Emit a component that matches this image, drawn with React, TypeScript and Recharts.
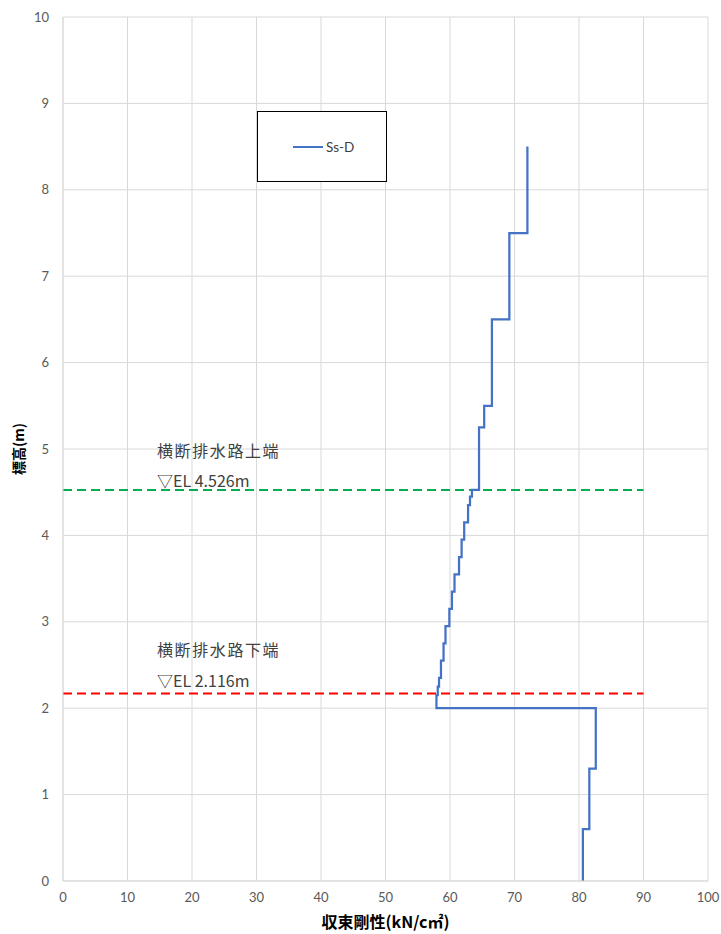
import {
  CartesianGrid,
  Legend,
  Line,
  LineChart,
  ReferenceLine,
  XAxis,
  YAxis,
} from "recharts";

// elevation (m) at the top of each layer, bottom layer first
const layerTops = [
  0.6, 1.3, 2.0, 2.15, 2.25, 2.35, 2.55, 2.75, 2.95, 3.15, 3.35, 3.55, 3.75,
  3.95, 4.15, 4.35, 4.45, 4.526, 5.25, 5.5, 6.5, 7.5, 8.5,
];
// convergence stiffness (kN/cm²) of each layer
const stiffness = [
  80.6, 81.6, 82.6, 57.9, 58.1, 58.3, 58.6, 59.0, 59.3, 59.9, 60.3, 60.7, 61.4,
  61.8, 62.2, 62.8, 63.1, 63.4, 64.5, 65.3, 66.5, 69.2, 72.0,
];
const xTicks = [0, 10, 20, 30, 40, 50, 60, 70, 80, 90, 100];
const yTicks = [0, 1, 2, 3, 4, 5, 6, 7, 8, 9, 10];

const upperEnd = { title: "横断排水路上端", el: "▽EL 4.526m", y: 4.526, color: "#00B050" };
const lowerEnd = { title: "横断排水路下端", el: "▽EL 2.116m", y: 2.17, color: "#FF0000" };
const guideRight = 90;

// step profile: each layer is a vertical run from its bottom to its top
const profile = layerTops.flatMap((top, i) => {
  const bottom = i === 0 ? 0 : layerTops[i - 1];
  return [
    { x: stiffness[i], y: bottom },
    { x: stiffness[i], y: top },
  ];
});

const TICK = { fill: "#595959", fontSize: 13, fontFamily: "Lato, 'Noto Sans', sans-serif" };
const GRID = "#D9D9D9";

function annotation(title: string, el: string, dy1: number, dy2: number) {
  return (props: any) => {
    const { viewBox } = props;
    const x = viewBox.x + 94;
    const y = viewBox.y;
    return (
      <g fontFamily="'Noto Sans CJK JP', sans-serif" fill="#404040">
        <text x={x} y={y + dy1} fontSize={16} letterSpacing={1.6}>
          {title}
        </text>
        <text x={x} y={y + dy2} fontSize={16}>
          {el}
        </text>
      </g>
    );
  };
}

function LegendBox({ payload }: any) {
  const item = payload && payload[0];
  return (
    <div
      style={{
        boxSizing: "border-box",
        width: "100%",
        height: "100%",
        border: "1px solid #000",
        background: "#fff",
        display: "flex",
        alignItems: "center",
        paddingLeft: 35,
      }}
    >
      <span style={{ display: "inline-block", width: 30, height: 2, background: item?.color ?? "#4472C4" }} />
      <span style={{ marginLeft: 3, fontSize: 13.5, color: "#404040", fontFamily: "Lato, sans-serif" }}>
        {item?.value ?? "Ss-D"}
      </span>
    </div>
  );
}

export default function App() {
  return (
    <div style={{ position: "absolute", left: 0, top: 0, width: 721, height: 934, background: "#fff" }}>
      <LineChart
        width={721}
        height={934}
        data={profile}
        margin={{ top: 17, right: 13, bottom: 0, left: 0 }}
      >
        <CartesianGrid stroke={GRID} strokeWidth={1} />
        <XAxis
          type="number"
          dataKey="x"
          domain={[0, 100]}
          ticks={xTicks}
          height={53}
          tick={TICK}
          tickLine={false}
          tickSize={0}
          tickMargin={12}
          axisLine={{ stroke: GRID }}
          label={{
            content: (p: any) => (
              <text
                x={p.viewBox.x + p.viewBox.width / 2}
                y={928}
                textAnchor="middle"
                fontSize={16}
                fontWeight="bold"
                fontFamily="'Noto Sans CJK JP', sans-serif"
                fill="#000"
              >
                収束剛性(kN/c㎡)
              </text>
            ),
          }}
        />
        <YAxis
          type="number"
          dataKey="y"
          domain={[0, 10]}
          ticks={yTicks}
          width={63}
          tick={TICK}
          tickLine={false}
          tickSize={0}
          tickMargin={14}
          axisLine={{ stroke: GRID }}
          label={{
            content: (p: any) => {
              const cy = p.viewBox.y + p.viewBox.height / 2;
              return (
                <text
                  x={18}
                  y={cy}
                  transform={`rotate(-90, 18, ${cy})`}
                  textAnchor="middle"
                  dominantBaseline="central"
                  fontSize={14}
                  fontWeight="bold"
                  fontFamily="'Noto Sans CJK JP', sans-serif"
                  fill="#000"
                >
                  標高(m)
                </text>
              );
            },
          }}
        />
        <ReferenceLine
          segment={[
            { x: 0, y: upperEnd.y },
            { x: guideRight, y: upperEnd.y },
          ]}
          stroke={upperEnd.color}
          strokeWidth={2}
          strokeDasharray="9 5"
          label={annotation(upperEnd.title, upperEnd.el, -33, -3)}
        />
        <ReferenceLine
          segment={[
            { x: 0, y: lowerEnd.y },
            { x: guideRight, y: lowerEnd.y },
          ]}
          stroke={lowerEnd.color}
          strokeWidth={2}
          strokeDasharray="9 5"
          label={annotation(lowerEnd.title, lowerEnd.el, -38, -7)}
        />
        <Line
          type="linear"
          dataKey="y"
          name="Ss-D"
          stroke="#4472C4"
          strokeWidth={2.25}
          dot={false}
          activeDot={false}
          isAnimationActive={false}
        />
        <Legend
          layout="vertical"
          verticalAlign="middle"
          align="center"
          content={<LegendBox />}
          wrapperStyle={{ left: 257, top: 111, width: 130, height: 71 }}
        />
      </LineChart>
    </div>
  );
}
